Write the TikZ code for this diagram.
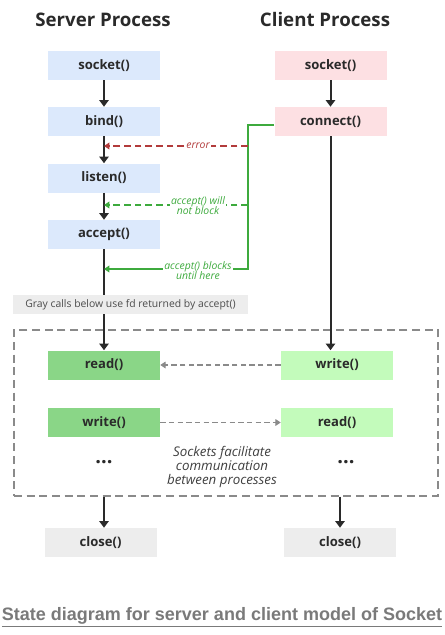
\documentclass[tikz,border=0pt]{standalone}
\usepackage{fontspec}
\setmainfont{Open Sans}
\newfontfamily\capfont{Liberation Sans}
\usetikzlibrary{arrows.meta}

\definecolor{srvblue}{HTML}{DCE9FC}
\definecolor{clipink}{HTML}{FDE0E3}
\definecolor{rwdark}{HTML}{8AD687}
\definecolor{rwlight}{HTML}{C3FBBB}
\definecolor{closegray}{HTML}{EDEDED}
\definecolor{errred}{HTML}{B23B3B}
\definecolor{okgreen}{HTML}{3DAA3D}
\definecolor{framegray}{HTML}{8A8A8A}
\definecolor{capgray}{HTML}{7A7A7A}
\definecolor{inkdark}{HTML}{2A2A2A}

\tikzset{
  head/.style={font=\bfseries\fontsize{14}{16}\selectfont, text=inkdark},
  call/.style={minimum width=84pt, minimum height=21.75pt, inner sep=0pt,
    font=\bfseries\fontsize{9.8}{11}\selectfont, text=inkdark},
  flow/.style={line width=1.5pt, draw=inkdark, -{Triangle[length=5pt,width=7pt]}},
  errline/.style={line width=0.9pt, draw=errred, dash pattern=on 5pt off 3pt,
    -{Triangle[length=4pt,width=5pt]}},
  okline/.style={line width=0.9pt, draw=okgreen, -{Triangle[length=4pt,width=5pt]}},
  note/.style={fill=white, inner sep=1pt, align=center,
    font=\itshape\fontsize{7.8}{8}\selectfont},
  msg/.style={line width=0.8pt, draw=framegray, dash pattern=on 4pt off 2.5pt,
    -{Triangle[length=4pt,width=5pt]}}
}

\begin{document}
\begin{tikzpicture}[x=0.75pt,y=-0.75pt]
    \useasboundingbox[fill=white] (0,0) rectangle (444,635);
    % headings
    \node[head] (srvhead) at (103,20) {Server Process};
    \node[head] (clihead) at (325,20) {Client Process};
    % server side
    \node[call, fill=srvblue] (ssock) at (104,65.5) {socket()};
    \node[call, fill=srvblue] (sbind) at (104,121.5) {bind()};
    \node[call, fill=srvblue] (slisten) at (104,178) {listen()};
    \node[call, fill=srvblue] (saccept) at (104,234.5) {accept()};
    % client side
    \node[call, fill=clipink] (csock) at (330.5,65.5) {socket()};
    \node[call, fill=clipink] (cconn) at (330.5,121.5) {connect()};
    % banner
    \node[fill=closegray, minimum width=176pt, minimum height=14.25pt, inner sep=0pt,
      font=\fontsize{7.8}{9}\selectfont, text=black!70] (gray) at (130.5,304.5)
      {Gray calls below use fd returned by accept()};
    % socket frame
    \node[draw=framegray, line width=0.8pt, dash pattern=on 6pt off 3.5pt,
      minimum width=318pt, minimum height=124.5pt] (frame) at (226,413) {};
    \node[call, fill=rwdark] (sread) at (104,365) {read()};
    \node[call, fill=rwlight] (cwrite) at (337,365) {write()};
    \node[call, fill=rwdark] (swrite) at (104,422.5) {write()};
    \node[call, fill=rwlight] (cread) at (337,422.5) {read()};
    \node[font=\bfseries\fontsize{15}{15}\selectfont, text=inkdark] (sdots) at (104,462) {...};
    \node[font=\bfseries\fontsize{15}{15}\selectfont, text=inkdark] (cdots) at (346,462) {...};
    \node[align=center, font=\itshape\fontsize{10}{10.5}\selectfont, text=black!75] (socktext)
      at (222,467) {Sockets facilitate\\communication\\between processes};
    % close
    \node[call, fill=closegray] (sclose) at (100.5,542.5) {close()};
    \node[call, fill=closegray] (cclose) at (340,542.5) {close()};
    % caption
    \node[font=\capfont\bfseries\fontsize{13.5}{15}\selectfont, text=capgray] (caption)
      at (222,617) {\underline{State diagram for server and client model of Socket}};

    % server flow
    \draw[flow] (ssock) -- (sbind);
    \draw[flow] (sbind) -- (slisten);
    \draw[flow] (slisten) -- (saccept);
    \draw[line width=1.5pt, draw=inkdark] (saccept.south) -- (saccept.south |- gray.north);
    \draw[flow] (saccept.south |- gray.south) -- (sread.north);
    \draw[flow] (sread.south |- frame.south) -- (sread.south |- sclose.north);
    % client flow
    \draw[flow] (csock) -- (cconn);
    \draw[flow] (cconn.south) -- (cconn.south |- cwrite.north);
    \draw[flow] (cclose.north |- frame.south) -- (cclose.north);

    % connect feedback
    \coordinate (gtop) at (248,125);
    \coordinate (gbot) at (248,269);
    \coordinate (gmid) at (248,205);
    \coordinate (gerr) at (248,146);
    \draw[okline] (cconn.west |- gtop) -- (gtop) -- (gbot) -- (saccept.south |- gbot);
    \draw[okline, dash pattern=on 5pt off 3pt] (gmid) -- (saccept.south |- gmid);
    \draw[errline] (gerr) -- (sbind.south |- gerr);
    \node[note, text=errred] (errtext) at (198,146) {error};
    \node[note, text=okgreen] (nobtext) at (198,205.5) {accept() will\\not block};
    \node[note, text=okgreen] (blktext) at (198,270.5) {accept() blocks\\until here};

    % data exchange
    \draw[msg] (cwrite) -- (sread);
    \draw[msg] (swrite) -- (cread);
\end{tikzpicture}
\end{document}
